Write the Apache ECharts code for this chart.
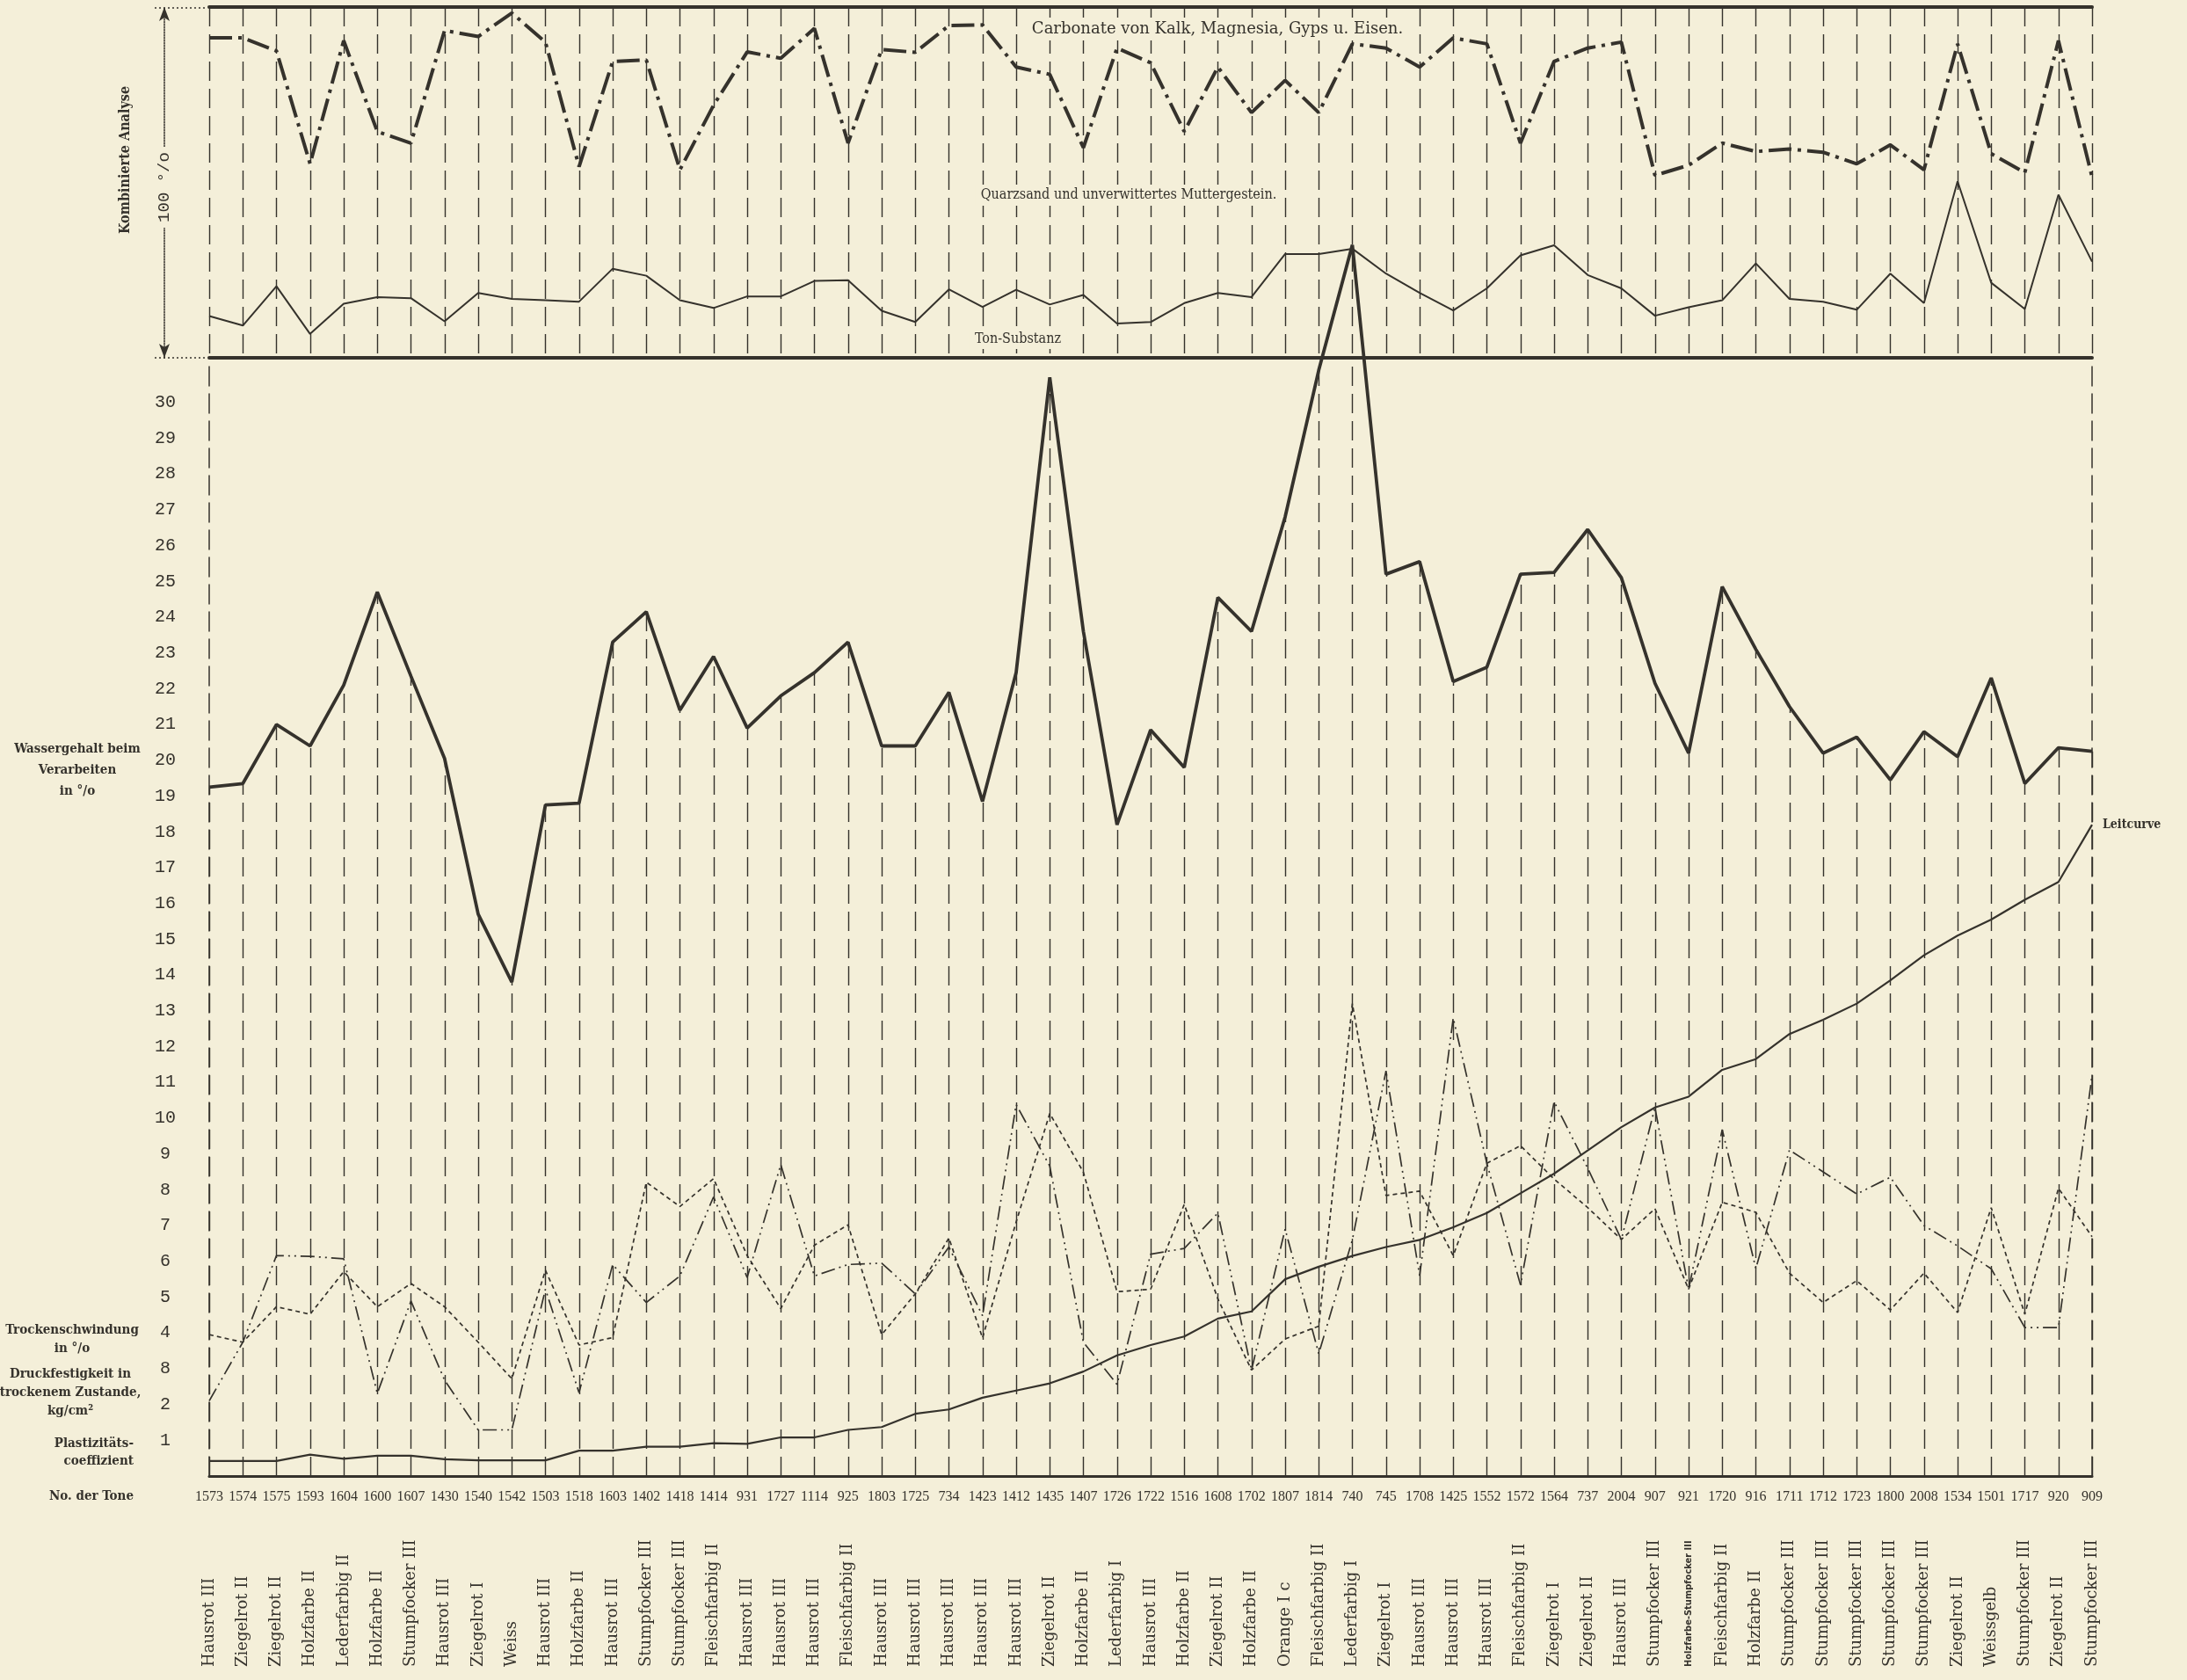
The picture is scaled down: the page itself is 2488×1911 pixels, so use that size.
<!DOCTYPE html>
<html><head><meta charset="utf-8">
<script src="https://cdn.jsdelivr.net/npm/echarts@6/dist/echarts.min.js"></script>
<style>html,body{margin:0;padding:0;background:#f4efd9;}#c{width:2488px;height:1911px;}</style>
</head><body><div id="c"></div>
<script>
// ---- categories ----
const toneNumbers = ['1573','1574','1575','1593','1604','1600','1607','1430','1540','1542','1503','1518','1603','1402','1418','1414','931','1727','1114','925','1803','1725','734','1423','1412','1435','1407','1726','1722','1516','1608','1702','1807','1814','740','745','1708','1425','1552','1572','1564','737','2004','907','921','1720','916','1711','1712','1723','1800','2008','1534','1501','1717','920','909'];
const toneNames = ['Hausrot III','Ziegelrot II','Ziegelrot II','Holzfarbe II','Lederfarbig II','Holzfarbe II','Stumpfocker III','Hausrot III','Ziegelrot I','Weiss','Hausrot III','Holzfarbe II','Hausrot III','Stumpfocker III','Stumpfocker III','Fleischfarbig II','Hausrot III','Hausrot III','Hausrot III','Fleischfarbig II','Hausrot III','Hausrot III','Hausrot III','Hausrot III','Hausrot III','Ziegelrot II','Holzfarbe II','Lederfarbig I','Hausrot III','Holzfarbe II','Ziegelrot II','Holzfarbe II','Orange I c','Fleischfarbig II','Lederfarbig I','Ziegelrot I','Hausrot III','Hausrot III','Hausrot III','Fleischfarbig II','Ziegelrot I','Ziegelrot II','Hausrot III','Stumpfocker III','Holzfarbe-Stumpfocker III','Fleischfarbig II','Holzfarbe II','Stumpfocker III','Stumpfocker III','Stumpfocker III','Stumpfocker III','Stumpfocker III','Ziegelrot II','Weissgelb','Stumpfocker III','Ziegelrot II','Stumpfocker III'];
// y tick labels of the main panel (index = value); the original prints "8" at 3
const yTickLabels = ['','1','2','8','4','5','6','7','8','9','10','11','12','13','14','15','16','17','18','19','20','21','22','23','24','25','26','27','28','29','30',''];

// ---- top panel: Kombinierte Analyse (0..100 %) ----
const carbonate = [91.2,91.2,87.5,55.3,90.4,64.5,61.2,93.3,91.6,98.3,90.0,54.5,84.5,84.9,53.6,72.0,87.2,85.4,93.9,61.2,87.9,87.1,94.7,94.9,82.9,80.8,59.9,88.3,84.1,64.5,82.9,69.9,79.1,69.9,89.5,88.3,82.9,91.2,89.5,61.2,84.5,88.3,90.0,52.0,54.9,61.2,58.8,59.5,58.6,55.3,60.7,53.6,89.5,58.2,52.8,90.4,51.5];
const tonSubstanz = [11.9,9.2,20.4,6.8,15.4,17.3,17.0,10.4,18.5,16.8,16.4,16.0,25.4,23.4,16.4,14.2,17.5,17.5,21.9,22.1,13.4,10.2,19.5,14.5,19.4,15.2,17.9,9.8,10.2,15.6,18.5,17.3,29.6,29.6,31.1,24.0,18.5,13.5,19.8,29.2,32.1,23.6,19.8,12.0,14.4,16.4,26.9,16.8,16.0,13.7,24.0,15.6,50.3,21.4,13.9,46.5,27.4];

// ---- main panel ----
const wassergehalt = [19.25,19.35,21.0,20.4,22.1,24.7,22.35,20.05,15.7,13.8,18.75,18.8,23.3,24.15,21.4,22.9,20.9,21.8,22.45,23.3,20.4,20.4,21.9,18.85,22.45,30.7,23.6,18.2,20.85,19.8,24.55,23.6,26.8,30.9,34.4,25.2,25.55,22.2,22.6,25.2,25.25,26.45,25.1,22.15,20.2,24.85,23.1,21.5,20.2,20.65,19.45,20.8,20.1,22.3,19.35,20.35,20.25];
const leitcurve = [0.42,0.42,0.42,0.6,0.48,0.57,0.57,0.47,0.44,0.44,0.44,0.71,0.71,0.82,0.82,0.92,0.9,1.08,1.08,1.29,1.37,1.74,1.86,2.19,2.39,2.59,2.92,3.37,3.66,3.9,4.4,4.6,5.5,5.85,6.15,6.4,6.6,6.95,7.35,7.9,8.45,9.1,9.75,10.3,10.6,11.35,11.65,12.35,12.75,13.2,13.85,14.55,15.1,15.55,16.1,16.6,18.2];
const trockenschwindung = [3.95,3.74,4.73,4.52,5.71,4.73,5.38,4.73,3.74,2.72,5.75,3.66,3.87,8.21,7.53,8.31,6.16,4.68,6.45,7.02,3.95,5.09,6.65,3.86,7.1,10.13,8.49,5.15,5.22,7.59,4.95,2.96,3.83,4.19,13.2,7.84,7.96,6.16,8.74,9.23,8.3,7.5,6.61,7.47,5.22,7.65,7.37,5.67,4.85,5.46,4.64,5.67,4.57,7.5,4.52,8.04,6.69];
const druckfestigkeit = [2.1,3.74,6.16,6.14,6.07,2.31,4.89,2.68,1.29,1.29,5.22,2.33,5.91,4.85,5.59,7.8,5.55,8.7,5.59,5.91,5.95,5.09,6.4,4.48,10.38,8.66,3.74,2.56,6.2,6.36,7.35,2.96,6.9,3.42,6.6,11.32,5.6,12.8,8.74,5.34,10.46,8.6,6.61,10.3,5.22,9.68,5.8,9.11,8.5,7.88,8.35,7.0,6.43,5.79,4.15,4.15,11.2];

const INK = '#35322c', BG = '#f4efd9';
const LEFT = 238, RIGHT = 108;
const MAIN_MAX = 31;
const DASH = [22, 9];
const SERIF = "'DejaVu Serif', 'Liberation Serif', serif";
const SERIF_C = "'DejaVu Serif Condensed', 'DejaVu Serif', serif";

const chart = echarts.init(document.getElementById('c'), null, {renderer: 'canvas'});

// drop lines from each water-content point down to the base line
const drops = wassergehalt.map((v, i) => [{coord: [i, 0]}, {coord: [i, Math.min(v, MAIN_MAX)]}]);

function txt(text, x, y, o) {
  o = o || {};
  return {
    type: 'text', x: x, y: y, rotation: o.rotation || 0, z: 100, silent: true,
    style: Object.assign({
      text: text, fill: INK, align: 'center', verticalAlign: 'middle',
      font: o.font || ('bold 15px ' + SERIF_C)
    }, o.style || {})
  };
}

const option = {
  backgroundColor: BG,
  animation: false,
  grid: [
    {left: LEFT, right: RIGHT, top: 8, height: 399},
    {left: LEFT, right: RIGHT, top: 417, height: 1262}
  ],
  xAxis: [
    {gridIndex: 0, type: 'category', data: toneNumbers, boundaryGap: false, position: 'bottom',
     axisLine: {onZero: false, lineStyle: {color: INK, width: 4}}, axisTick: {show: false}, axisLabel: {show: false},
     splitLine: {show: true, lineStyle: {color: INK, width: 1.4, type: DASH}}},
    {gridIndex: 0, type: 'category', data: toneNumbers, boundaryGap: false, position: 'top',
     axisLine: {onZero: false, lineStyle: {color: INK, width: 4}}, axisTick: {show: false}, axisLabel: {show: false},
     splitLine: {show: false}},
    {gridIndex: 1, type: 'category', data: toneNumbers, boundaryGap: false, position: 'bottom',
     axisLine: {onZero: false, lineStyle: {color: INK, width: 3}}, axisTick: {show: false},
     axisLabel: {interval: 0, margin: 16, color: INK, fontFamily: "'Liberation Serif', serif", fontSize: 16},
     splitLine: {show: false}},
    {gridIndex: 1, type: 'category', data: toneNumbers, boundaryGap: false, position: 'bottom',
     axisLine: {show: false, onZero: false}, axisTick: {show: false}, splitLine: {show: false},
     axisLabel: {interval: 0, rotate: 90, align: 'left', verticalAlign: 'middle', margin: 217,
       color: INK, fontFamily: SERIF, fontSize: 18,
       formatter: function (v, i) { const n = toneNames[i]; return n.length > 20 ? '{s|' + n + '}' : n; },
       rich: {s: {fontSize: 11, fontWeight: 'bold', fontFamily: "'DejaVu Sans Condensed', 'DejaVu Sans', sans-serif", color: INK}}}}
  ],
  yAxis: [
    {gridIndex: 0, type: 'value', min: 0, max: 100, position: 'left', offset: 51,
     axisLine: {show: true, symbol: ['arrow', 'arrow'], symbolSize: [9, 16], lineStyle: {color: INK, width: 1.5, type: 'dotted'}},
     axisTick: {show: false}, axisLabel: {show: false}, splitLine: {show: false}},
    {gridIndex: 1, type: 'value', min: 0, max: MAIN_MAX, interval: 1, position: 'left',
     axisLine: {show: true, lineStyle: {color: INK, width: 1.5, type: DASH}}, axisTick: {show: false},
     axisLabel: {margin: 50, align: 'center', color: INK, fontFamily: "'Liberation Mono', monospace", fontSize: 20,
       formatter: function (v) { return yTickLabels[Math.round(v)] || ''; }},
     splitLine: {show: false}},
    {gridIndex: 1, type: 'value', min: 0, max: MAIN_MAX, interval: 1, position: 'right',
     axisLine: {show: true, lineStyle: {color: INK, width: 1.5, type: DASH}}, axisTick: {show: false},
     axisLabel: {show: false}, splitLine: {show: false}}
  ],
  series: [
    {name: 'Carbonate', type: 'line', xAxisIndex: 0, yAxisIndex: 0, data: carbonate, symbol: 'none', silent: true, z: 5,
     lineStyle: {color: INK, width: 4, type: [26, 7, 4, 7]}},
    {name: 'Ton-Substanz', type: 'line', xAxisIndex: 0, yAxisIndex: 0, data: tonSubstanz, symbol: 'none', silent: true, z: 5,
     lineStyle: {color: INK, width: 2}},
    {name: 'Wassergehalt', type: 'line', xAxisIndex: 2, yAxisIndex: 1, data: wassergehalt, symbol: 'none', silent: true,
     clip: false, z: 6, lineStyle: {color: INK, width: 3.8},
     markLine: {silent: true, symbol: ['none', 'none'], label: {show: false}, animation: false,
       lineStyle: {color: INK, width: 1.4, type: DASH}, emphasis: {disabled: true}, data: drops}},
    {name: 'Leitcurve', type: 'line', xAxisIndex: 2, yAxisIndex: 1, data: leitcurve, symbol: 'none', silent: true, z: 6,
     lineStyle: {color: INK, width: 2.2},
     endLabel: {show: true, formatter: function () { return 'Leitcurve'; }, distance: 12, color: INK,
       fontFamily: SERIF_C, fontWeight: 'bold', fontSize: 14}},
    {name: 'Trockenschwindung', type: 'line', xAxisIndex: 2, yAxisIndex: 1, data: trockenschwindung, symbol: 'none', silent: true, z: 6,
     lineStyle: {color: INK, width: 1.7, type: [5, 4]}},
    {name: 'Druckfestigkeit', type: 'line', xAxisIndex: 2, yAxisIndex: 1, data: druckfestigkeit, symbol: 'none', silent: true, z: 6,
     lineStyle: {color: INK, width: 1.7, type: [16, 5, 2, 5, 2, 5]}}
  ],
  graphic: [
    txt('Kombinierte Analyse', 143, 182, {rotation: Math.PI / 2, font: 'bold 16px ' + SERIF_C}),
    txt('100 °/o', 187, 213, {rotation: Math.PI / 2, font: "19px 'Liberation Mono', monospace",
      style: {backgroundColor: BG, padding: [2, 6]}}),
    {type: 'line', silent: true, shape: {x1: 176, y1: 9, x2: 234, y2: 9}, style: {stroke: INK, lineWidth: 1.5, lineDash: [2, 3]}},
    {type: 'line', silent: true, shape: {x1: 176, y1: 407, x2: 234, y2: 407}, style: {stroke: INK, lineWidth: 1.5, lineDash: [2, 3]}},
    txt('Carbonate von Kalk, Magnesia, Gyps u. Eisen.', 1385, 33, {font: '18px ' + SERIF,
      style: {backgroundColor: BG, padding: [4, 6]}}),
    txt('Quarzsand und unverwittertes Muttergestein.', 1284, 222, {font: '16px ' + SERIF_C,
      style: {backgroundColor: BG, padding: [4, 6]}}),
    txt('Ton-Substanz', 1158, 386, {font: '16px ' + SERIF_C, style: {backgroundColor: BG, padding: [3, 6]}}),
    txt('Wassergehalt beim\nVerarbeiten\nin °/o', 88, 876, {style: {lineHeight: 24}}),
    txt('Trockenschwindung\nin °/o', 82, 1524, {style: {lineHeight: 21}}),
    txt('Druckfestigkeit in\ntrockenem Zustande,\nkg/cm²', 80, 1584, {style: {lineHeight: 21}}),
    txt('Plastizitäts-\ncoeffizient', 152, 1652, {style: {align: 'right', lineHeight: 20}}),
    txt('No. der Tone', 152, 1702, {style: {align: 'right'}})
  ]
};
chart.setOption(option);
</script>
</body></html>
